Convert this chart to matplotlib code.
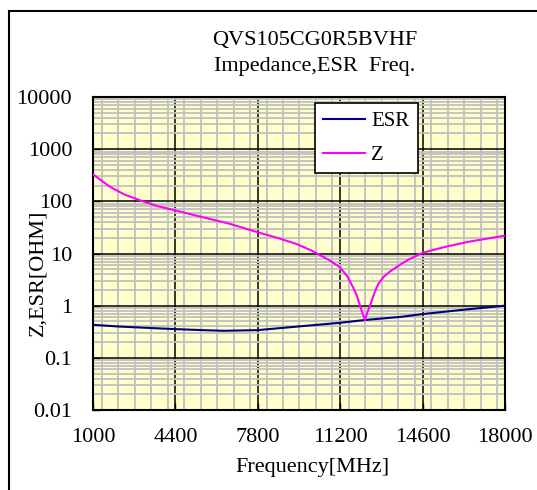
import numpy as np
import matplotlib
matplotlib.use("Agg")
import matplotlib.pyplot as plt
from matplotlib.ticker import FixedLocator, MultipleLocator, LogLocator, FuncFormatter, NullFormatter
from matplotlib.patches import Rectangle

plt.rcParams['font.family'] = ['Liberation Serif', 'DejaVu Serif']

# values
freq_esr = [1000, 2000, 3000, 4400, 5500, 6400, 7800, 9500, 11200, 12200,
            13700, 14600, 16000, 18000]
esr = [0.43, 0.40, 0.38, 0.355, 0.34, 0.33, 0.34, 0.40, 0.47, 0.53,
       0.61, 0.69, 0.81, 1.0]

freq_z = [1000, 1300, 1700, 2300, 3000, 3700, 4400, 5280, 6650, 7800,
          8600, 9400, 10000, 10370, 10780, 11200, 11500, 11740, 11900, 12020,
          12120, 12223, 12320, 12430, 12600, 12770, 13000, 13250, 13670, 14010,
          14600, 15500, 16500, 18000]
z = [330, 260, 190, 135, 102, 80, 67, 53, 37, 25.5,
     20, 15.2, 11.5, 9.3, 7.3, 5.4, 3.6, 2.2, 1.5, 1.0,
     0.72, 0.53, 0.74, 1.0, 1.7, 2.6, 3.6, 4.5, 6.1, 7.6,
     10.3, 13.3, 16.8, 22]

x_ticks = [1000, 4400, 7800, 11200, 14600, 18000]
y_ticks = [0.01, 0.1, 1, 10, 100, 1000, 10000]

W, H = 537, 490
fig = plt.figure(figsize=(W / 100, H / 100), dpi=100)
ax = fig.add_axes([93 / W, 1 - 410 / H, (505 - 93) / W, (410 - 97) / H])
ax.set_facecolor('#FFFFCC')

# outer chart frame, runs off the right and bottom edges
fig.patches.append(Rectangle((9 / W, -0.1), 1.2, 1.1 - 11 / H,
                             transform=fig.transFigure, fill=False,
                             edgecolor='black', lw=1.5))

ax.plot(freq_esr, esr, color='#000080', lw=1.5, label='ESR', zorder=3)
ax.plot(freq_z, z, color='#FF00FF', lw=1.5, label='Z', zorder=3)

ax.set_yscale('log')
ax.set_xlim(1000, 18000)
ax.set_ylim(0.01, 10000)
ax.xaxis.set_major_locator(FixedLocator(x_ticks))
ax.xaxis.set_minor_locator(MultipleLocator(680))
ax.yaxis.set_major_locator(FixedLocator(y_ticks))
ax.yaxis.set_minor_locator(LogLocator(base=10, subs=np.arange(2, 10), numticks=20))
ax.yaxis.set_major_formatter(FuncFormatter(lambda v, p: '%g' % v))
ax.yaxis.set_minor_formatter(NullFormatter())

ax.grid(which='minor', color='#C0C0C0', lw=1.3, zorder=0)
ax.grid(which='major', color='black', lw=1.1, zorder=1)
ax.set_axisbelow(True)

ax.tick_params(which='both', direction='in', labelsize=16)
ax.tick_params(axis='y', pad=15)
ax.tick_params(axis='x', pad=13)
ax.tick_params(which='major', length=5, width=1)
ax.tick_params(which='minor', length=0)
for s in ax.spines.values():
    s.set_linewidth(1.5)

fig.text(315 / W, 1 - 41 / H, 'QVS105CG0R5BVHF', ha='center', va='center', fontsize=16)
fig.text(315 / W, 1 - 67 / H, 'Impedance,ESR  Freq.', ha='center', va='center', fontsize=16)
fig.text(38 / W, 1 - 273 / H, 'Z,ESR[OHM]', ha='center', va='center', rotation=90, fontsize=16)
fig.text(312 / W, 1 - 467 / H, 'Frequency[MHz]', ha='center', va='center', fontsize=16)

leg = ax.legend(loc='upper left', bbox_to_anchor=((315 - 93) / 412, (410 - 103) / 313),
                borderaxespad=0, fontsize=15, frameon=True, fancybox=False,
                edgecolor='black', framealpha=1, handlelength=2.0, labelspacing=0.7,
                borderpad=0.4, handletextpad=0.3)
leg.get_frame().set_linewidth(1.2)

fig.savefig('out.png', dpi=100)
